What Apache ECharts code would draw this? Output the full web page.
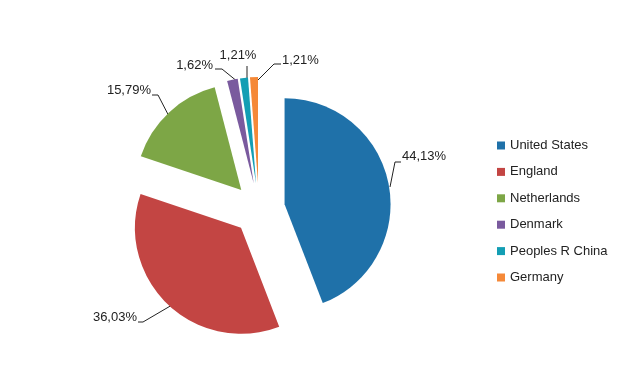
<!DOCTYPE html>
<html><head><meta charset="utf-8">
<script src="https://cdn.jsdelivr.net/npm/echarts@6/dist/echarts.min.js"></script>
<style>html,body{margin:0;padding:0;background:#fff}#c{width:644px;height:388px}</style>
</head><body><div id="c"></div>
<script>
const categories = ['United States','England','Netherlands','Denmark','Peoples R China','Germany'];
const values = [44.13, 36.03, 15.79, 1.62, 1.21, 1.21];
const colors = ['#1f71a9','#c34543','#7da646','#7a5a9e','#139eb4','#f58938'];

// label placement (styling): text anchor, alignment, leader line points
const labelPlacement = [
  {x: 402, y: 156, align: 'left',   line: [[390,187],[395,162],[401,162]]},
  {x: 137, y: 317, align: 'right',  line: [[172,305],[143,322],[138,322]]},
  {x: 151, y: 90,  align: 'right',  line: [[173,124],[158,95],[152,95]]},
  {x: 213, y: 65,  align: 'right',  line: [[238,82],[222,69],[215,69]]},
  {x: 238, y: 55,  align: 'center', line: [[247,81],[247,66]]},
  {x: 282, y: 60,  align: 'left',   line: [[257,81],[274,64],[281,64]]}
];

const CX = 259, CY = 209, R = 106, EXPLODE = 26;
const total = values.reduce((a, b) => a + b, 0);
let cum = 0;
const series = values.map((v, k) => {
  const mid = (cum + v / 2) / total * Math.PI * 2;
  cum += v;
  return {
    type: 'pie',
    center: [CX + EXPLODE * Math.sin(mid), CY - EXPLODE * Math.cos(mid)],
    radius: R,
    startAngle: 90, clockwise: true,
    avoidLabelOverlap: false,
    silent: true,
    emphasis: {disabled: true},
    label: {
      fontFamily: 'Liberation Sans, Arial', fontSize: 13, color: '#222',
      formatter: p => p.value.toFixed(2).replace('.', ',') + '%'
    },
    labelLine: {length: 12, length2: 6, lineStyle: {color: '#222', width: 1}},
    labelLayout: function (params) {
      const p = labelPlacement[params.dataIndex];
      return {x: p.x, y: p.y, align: p.align, verticalAlign: 'middle', labelLinePoints: p.line};
    },
    data: categories.map((n, i) => ({
      name: n, value: values[i],
      itemStyle: {color: colors[i], opacity: i === k ? 1 : 0},
      label: {show: i === k},
      labelLine: {show: i === k}
    }))
  };
});

const chart = echarts.init(document.getElementById('c'));
chart.setOption({
  animation: false,
  legend: {
    orient: 'vertical', left: 492, top: 134,
    icon: 'rect', itemWidth: 8, itemHeight: 8, itemGap: 13.4,
    textStyle: {fontFamily: 'Liberation Sans, Arial', fontSize: 13, color: '#222'},
    data: categories.map((n, i) => ({name: n, itemStyle: {color: colors[i], opacity: 1}})),
    selectedMode: false
  },
  series: series
});
</script></body></html>
